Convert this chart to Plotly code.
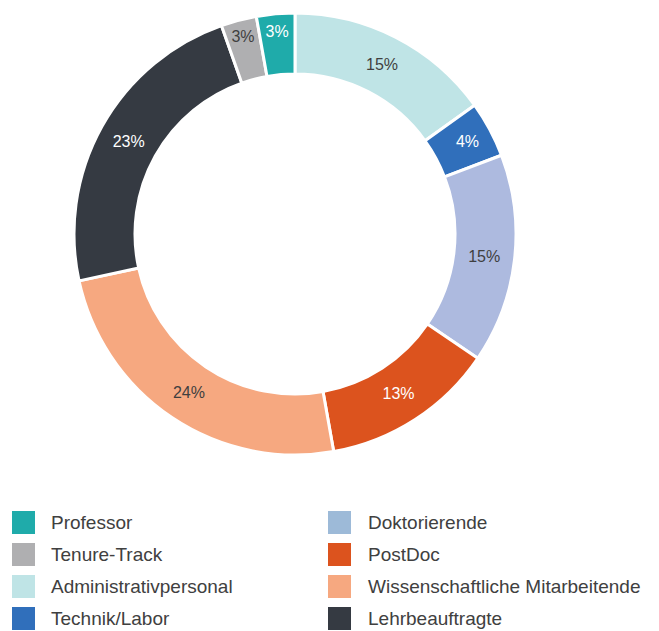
import plotly.graph_objects as go

# Data (clockwise from 12 o'clock), shares in percent
labels = ["Administrativpersonal", "Technik/Labor", "Doktorierende", "PostDoc",
          "Wissenschaftliche Mitarbeitende", "Lehrbeauftragte", "Tenure-Track", "Professor"]
values = [15.1, 4.1, 15.3, 12.7, 24.4, 23.0, 2.6, 2.8]
slice_colors = ["#bfe4e6", "#306fbb", "#adbadf", "#dc531e",
                "#f6a880", "#353a42", "#afafb1", "#1fabaa"]
text_colors = ["#3f3f3f", "#ffffff", "#3f3f3f", "#ffffff",
               "#3f3f3f", "#ffffff", "#3f3f3f", "#ffffff"]

# Legend (column-major order as in the reference)
legend_labels = ["Professor", "Tenure-Track", "Administrativpersonal", "Technik/Labor",
                 "Doktorierende", "PostDoc", "Wissenschaftliche Mitarbeitende", "Lehrbeauftragte"]
legend_colors = ["#1fabaa", "#afafb1", "#bfe4e6", "#306fbb",
                 "#9dbad8", "#dc531e", "#f6a880", "#353a42"]

W, H = 659, 631
OFF = 8  # page body margin offset
cx, cy, R = 295 - OFF, 234 - OFF, 221

fig = go.Figure(go.Pie(
    labels=labels,
    values=values,
    sort=False,
    direction="clockwise",
    rotation=0,
    hole=0.724,
    marker=dict(colors=slice_colors, line=dict(color="#ffffff", width=3)),
    texttemplate="%{percent:.0%}",
    textposition="inside",
    insidetextorientation="horizontal",
    textfont=dict(color=text_colors, size=16, family="Liberation Sans"),
    showlegend=False,
    domain=dict(x=[(cx - R) / W, (cx + R) / W], y=[1 - (cy + R) / H, 1 - (cy - R) / H]),
))

shapes = []
annotations = []
for i, (lab, col) in enumerate(zip(legend_labels, legend_colors)):
    colnum, row = divmod(i, 4)
    x0 = (12 if colnum == 0 else 328) - OFF
    tx = (49 if colnum == 0 else 366) - OFF
    yc = 522.5 + row * 32 - OFF
    shapes.append(dict(type="rect", xref="paper", yref="paper",
                       x0=x0 / W, x1=(x0 + 23) / W,
                       y0=1 - (yc + 11.5) / H, y1=1 - (yc - 11.5) / H,
                       fillcolor=col, line=dict(width=0)))
    annotations.append(dict(text=lab, xref="paper", yref="paper",
                            x=tx / W, y=1 - yc / H, xanchor="left", yanchor="middle",
                            showarrow=False,
                            font=dict(size=19, color="#404040", family="Liberation Sans")))

fig.update_layout(
    width=W, height=H,
    margin=dict(l=0, r=0, t=0, b=0),
    paper_bgcolor="#ffffff",
    plot_bgcolor="#ffffff",
    shapes=shapes,
    annotations=annotations,
)

fig.write_html("out.html")
